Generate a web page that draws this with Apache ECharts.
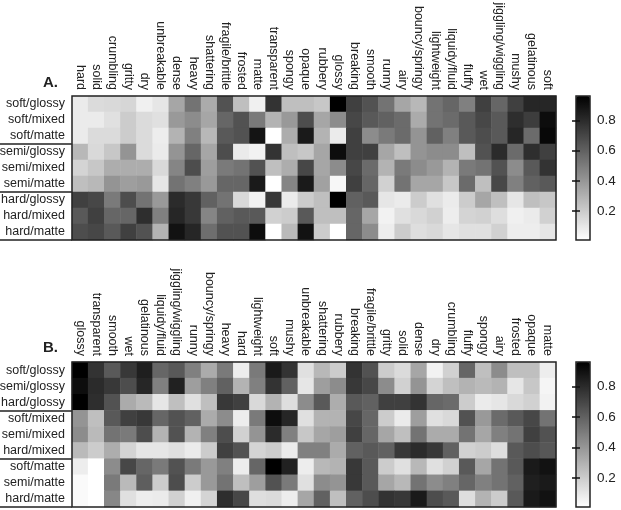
<!DOCTYPE html>
<html>
<head>
<meta charset="utf-8">
<style>html,body{margin:0;padding:0;background:#fff}#c{width:621px;height:510px}</style>
<script src="https://cdn.jsdelivr.net/npm/echarts@6/dist/echarts.min.js"></script>
</head>
<body>
<div id="c"></div>
<script>
// Panel A: material conditions by perceptual attributes
var attributesA = ['hard','solid','crumbling','gritty','dry','unbreakable','dense','heavy','shattering','fragile/brittle','frosted','matte','transparent','spongy','opaque','rubbery','glossy','breaking','smooth','runny','airy','bouncy/springy','lightweight','liquidy/fluid','fluffy','wet','jiggling/wiggling','mushy','gelatinous','soft'];
var conditionsA = ['soft/glossy','soft/mixed','soft/matte','semi/glossy','semi/mixed','semi/matte','hard/glossy','hard/mixed','hard/matte'];
var softGlossyA = [.08,.14,.15,.16,.06,.10,.35,.55,.33,.68,.25,.06,.80,.25,.25,.22,1.0,.75,.68,.55,.35,.28,.55,.60,.50,.75,.60,.75,.85,.85];
var softMixedA  = [.08,.08,.12,.20,.14,.12,.40,.45,.35,.60,.68,.52,.30,.40,.70,.35,.45,.72,.65,.62,.58,.33,.55,.58,.65,.72,.65,.82,.76,.95];
var softMatteA  = [.08,.14,.14,.20,.14,.07,.30,.50,.28,.65,.68,.92,.00,.32,.90,.30,.08,.75,.45,.52,.58,.42,.62,.50,.65,.70,.65,.85,.58,.97];
var semiGlossyA = [.28,.15,.22,.42,.14,.08,.42,.60,.35,.70,.08,.05,.80,.25,.22,.35,.95,.75,.75,.35,.25,.42,.45,.45,.25,.68,.83,.58,.82,.75];
var semiMixedA  = [.17,.22,.32,.32,.32,.15,.48,.70,.38,.52,.55,.68,.25,.32,.72,.35,.45,.72,.58,.30,.52,.45,.40,.30,.52,.55,.68,.45,.65,.80];
var semiMatteA  = [.25,.28,.42,.38,.40,.10,.55,.50,.40,.60,.60,.90,.00,.48,.90,.37,.03,.75,.60,.18,.55,.35,.35,.22,.58,.25,.72,.50,.62,.65];
var hardGlossyA = [.75,.72,.52,.70,.55,.40,.83,.78,.62,.55,.15,.05,.78,.08,.20,.25,1.0,.62,.65,.10,.08,.20,.12,.08,.20,.35,.25,.10,.25,.22];
var hardMixedA  = [.65,.75,.60,.60,.82,.50,.85,.78,.48,.62,.65,.65,.18,.20,.65,.25,.25,.60,.35,.05,.12,.15,.18,.07,.17,.18,.13,.06,.08,.18];
var hardMatteA  = [.70,.72,.65,.75,.68,.30,.93,.85,.57,.68,.68,.95,.00,.27,.93,.20,.00,.60,.45,.07,.20,.13,.15,.10,.12,.12,.18,.07,.07,.10];

// Panel B: same attributes, re-sorted, with conditions grouped by surface finish
var attributesB = ['glossy','transparent','smooth','wet','gelatinous','liquidy/fluid','jiggling/wiggling','runny','bouncy/springy','heavy','hard','lightweight','soft','mushy','unbreakable','shattering','rubbery','breaking','fragile/brittle','gritty','solid','dense','dry','crumbling','fluffy','spongy','airy','frosted','opaque','matte'];
var conditionsB = ['soft/glossy','semi/glossy','hard/glossy','soft/mixed','semi/mixed','hard/mixed','soft/matte','semi/matte','hard/matte'];
var softGlossyB = [1.0,.80,.65,.78,.88,.60,.65,.50,.33,.52,.07,.52,.90,.80,.12,.28,.20,.80,.68,.20,.14,.35,.05,.18,.60,.25,.45,.25,.25,.07];
var semiGlossyB = [.95,.83,.78,.70,.85,.50,.87,.38,.50,.62,.30,.50,.80,.62,.10,.38,.45,.78,.72,.45,.18,.42,.17,.25,.30,.27,.30,.10,.22,.04];
var hardGlossyB = [1.0,.82,.68,.33,.27,.10,.25,.12,.25,.78,.75,.15,.30,.13,.45,.65,.32,.65,.62,.75,.75,.80,.60,.58,.20,.08,.10,.15,.18,.05];
var softMixedB  = [.42,.25,.65,.75,.78,.60,.68,.62,.33,.45,.07,.52,.95,.85,.12,.30,.30,.72,.60,.20,.08,.38,.12,.15,.68,.40,.58,.65,.72,.55];
var semiMixedB  = [.45,.27,.55,.52,.70,.30,.68,.30,.50,.70,.18,.42,.83,.50,.22,.35,.38,.75,.60,.35,.25,.55,.33,.33,.55,.35,.50,.55,.75,.68];
var hardMixedB  = [.27,.20,.32,.17,.10,.10,.12,.08,.20,.75,.68,.17,.20,.08,.50,.50,.33,.62,.65,.62,.78,.83,.78,.62,.18,.20,.13,.65,.70,.66];
var softMatteB  = [.07,.00,.45,.72,.60,.52,.68,.52,.40,.50,.07,.60,1.0,.87,.07,.28,.30,.78,.65,.20,.12,.28,.12,.18,.65,.35,.55,.65,.90,.93];
var semiMatteB  = [.02,.00,.52,.27,.63,.20,.70,.20,.40,.55,.25,.38,.68,.52,.12,.45,.42,.78,.65,.35,.28,.55,.45,.50,.60,.50,.55,.62,.88,.90];
var hardMatteB  = [.02,.00,.47,.12,.07,.08,.18,.06,.17,.82,.72,.13,.14,.07,.35,.62,.25,.62,.70,.80,.78,.90,.70,.65,.13,.30,.20,.65,.90,.93];

var rowsA = [softGlossyA,softMixedA,softMatteA,semiGlossyA,semiMixedA,semiMatteA,hardGlossyA,hardMixedA,hardMatteA];
var rowsB = [softGlossyB,semiGlossyB,hardGlossyB,softMixedB,semiMixedB,hardMixedB,softMatteB,semiMatteB,hardMatteB];

// Colour scale limits and colorbar tick labels
var scaleMin = 0.01, scaleMax = 0.96;
var colorbarTicks = [0.2, 0.4, 0.6, 0.8];

// Rows hold each cell's position along the grey ramp; convert to scale units
function cells(rows) {
  var out = [];
  rows.forEach(function (row, r) {
    row.forEach(function (v, c) {
      out.push([c, r, scaleMin + v * (scaleMax - scaleMin)]);
    });
  });
  return out;
}

var font = '"Liberation Sans", Arial, sans-serif';
var ink = '#222';
var grids = [
  { left: 72, top: 96, width: 484, height: 144 },
  { left: 72, top: 362, width: 484, height: 145 },
  { left: 576, top: 96, width: 14, height: 144 },
  { left: 576, top: 362, width: 14, height: 145 }
].map(function (g) {
  return Object.assign(g, { show: true, z: 6, borderColor: ink, borderWidth: 1.5, backgroundColor: 'transparent', outerBoundsMode: 'none' });
});

function attributeAxis(names, gridIndex) {
  return {
    type: 'category', gridIndex: gridIndex, position: 'top', data: names,
    axisLine: { show: false }, axisTick: { show: false }, splitLine: { show: false },
    axisLabel: { interval: 0, rotate: 90, margin: 6, fontFamily: font, fontSize: 12.5, color: ink }
  };
}
function conditionAxis(names, gridIndex) {
  return {
    type: 'category', gridIndex: gridIndex, inverse: true, data: names,
    axisLine: { show: false }, splitLine: { show: false },
    // long ticks at group boundaries run under the row labels
    axisTick: {
      show: true, length: 72, interval: function (i) { return i === 3 || i === 6; },
      lineStyle: { color: ink, width: 1.5 }
    },
    axisLabel: { interval: 0, margin: 7, fontFamily: font, fontSize: 12.5, color: ink }
  };
}
function barX(gridIndex) {
  return { type: 'value', gridIndex: gridIndex, min: 0, max: 1, show: false };
}
function barY(gridIndex, side, labelled) {
  return {
    type: 'value', gridIndex: gridIndex, position: side, min: scaleMin, max: scaleMax, z: 7,
    axisLine: { show: false }, splitLine: { show: false },
    axisTick: { show: true, inside: true, length: 4, customValues: colorbarTicks, lineStyle: { color: '#111', width: 1.5 } },
    axisLabel: {
      show: labelled, customValues: colorbarTicks, margin: 7, fontFamily: font, fontSize: 13.5, color: ink,
      formatter: function (v) { return v.toFixed(1); }
    }
  };
}
function colorbar(seriesIndex, top, height) {
  return {
    type: 'continuous', seriesIndex: seriesIndex, min: scaleMin, max: scaleMax,
    left: 576, top: top, itemWidth: 14, itemHeight: height, padding: 0,
    calculable: false, hoverLink: false, text: ['', ''], textGap: 0,
    inRange: { color: ['#ffffff', '#000000'] }
  };
}
function heatmap(gridIndex, rows) {
  return {
    type: 'heatmap', xAxisIndex: gridIndex, yAxisIndex: gridIndex, data: cells(rows),
    progressive: 0, itemStyle: { borderWidth: 0 }, emphasis: { disabled: true }
  };
}
function panelTitle(text, top) {
  return { text: text, left: 43, top: top, padding: 0,
    textStyle: { fontFamily: font, fontSize: 15, fontWeight: 'bold', color: ink } };
}

var chart = echarts.init(document.getElementById('c'), null, { renderer: 'canvas' });
chart.setOption({
  animation: false,
  backgroundColor: '#fff',
  title: [panelTitle('A.', 75), panelTitle('B.', 340)],
  grid: grids,
  xAxis: [attributeAxis(attributesA, 0), attributeAxis(attributesB, 1), barX(2), barX(3)],
  yAxis: [conditionAxis(conditionsA, 0), conditionAxis(conditionsB, 1),
          barY(2, 'right', true), barY(3, 'right', true),
          Object.assign(barY(2, 'left', false), { xAxisIndex: 2 }),
          Object.assign(barY(3, 'left', false), { xAxisIndex: 3 })],
  visualMap: [colorbar(0, 96, 144), colorbar(1, 362, 145)],
  series: [heatmap(0, rowsA), heatmap(1, rowsB)]
});
</script>
</body>
</html>
